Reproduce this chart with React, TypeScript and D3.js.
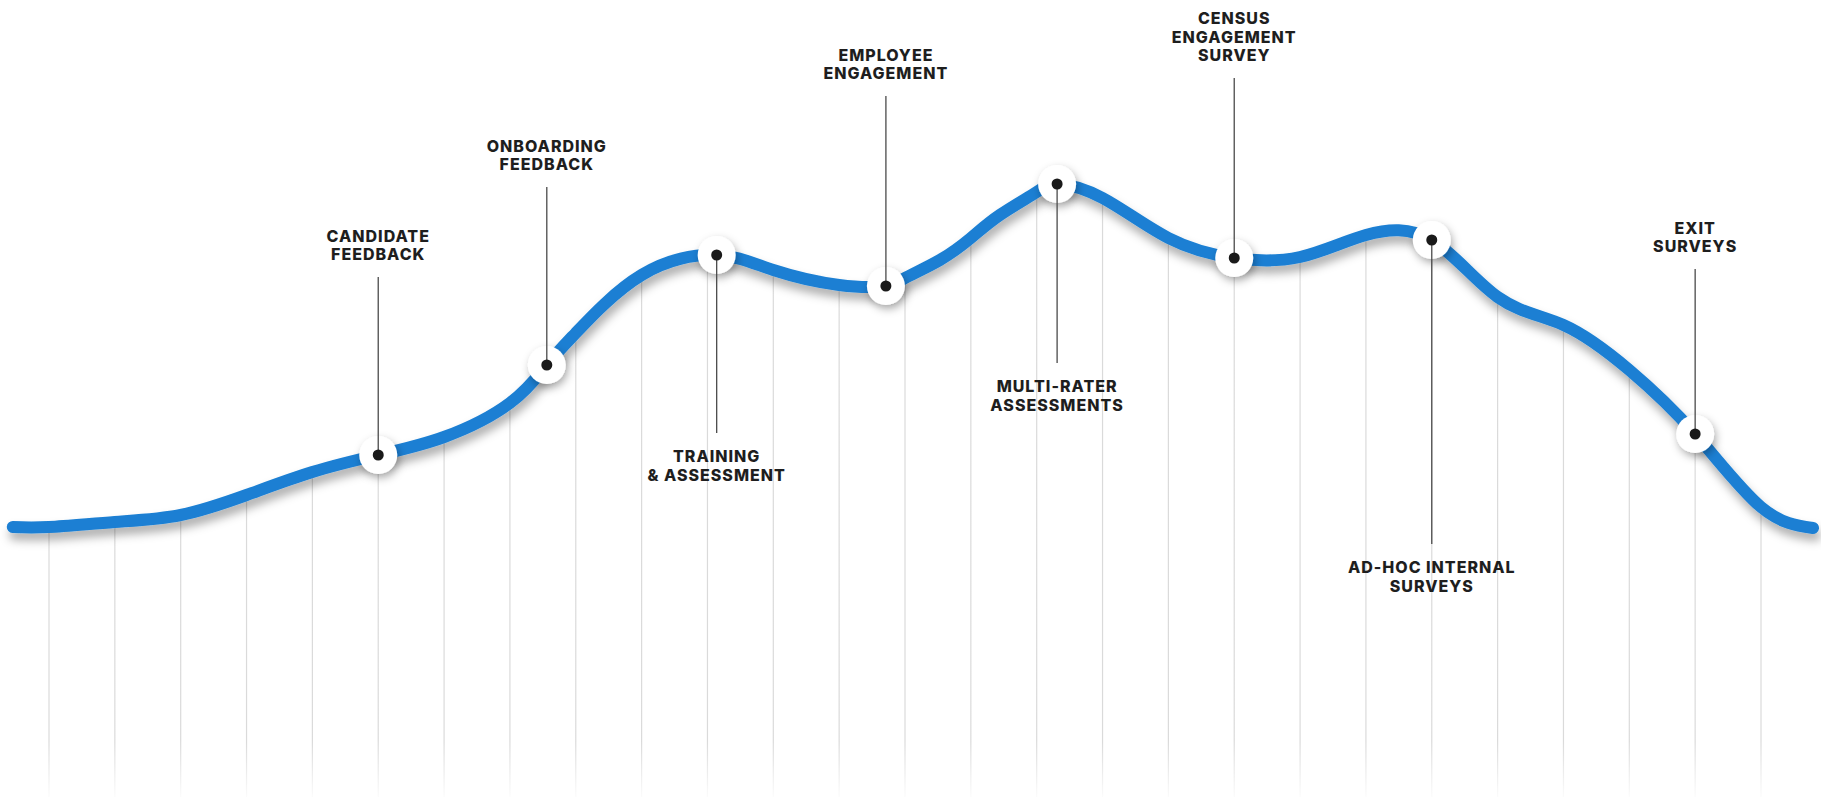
import React, { useEffect } from "react";
import * as d3 from "d3";

// ---- data (x in gridline-step units, y in value units) ----
const curveX = [-0.55, 0, 1, 2, 3, 4, 5, 6, 7, 7.56, 8, 9, 10.14, 11, 12, 12.71, 13, 13.53, 14, 14.44, 15, 15.31, 16, 17, 18, 19, 20, 21, 22, 23, 24, 25, 26, 26.79];
const curveY = [8.25, 8.25, 9.5, 11.25, 16.25, 22, 26.25, 30.75, 39.25, 48.75, 56.75, 71.25, 76.25, 72.5, 68.75, 68.5, 70.5, 75, 80.5, 86.25, 92, 94, 90.5, 80.5, 75.5, 75.75, 81.25, 80, 65.75, 58.75, 47.5, 31.5, 13.25, 8];
const gridSteps = d3.range(0, 27);
const markerX = [5, 7.56, 10.14, 12.71, 15.31, 18, 21, 25];
const markerLabels = [
  ["CANDIDATE", "FEEDBACK"],
  ["ONBOARDING", "FEEDBACK"],
  ["TRAINING", "& ASSESSMENT"],
  ["EMPLOYEE", "ENGAGEMENT"],
  ["MULTI-RATER", "ASSESSMENTS"],
  ["CENSUS", "ENGAGEMENT", "SURVEY"],
  ["AD-HOC INTERNAL", "SURVEYS"],
  ["EXIT", "SURVEYS"],
];
const markerSide = ["above", "above", "below", "above", "below", "above", "below", "above"];

// ---- layout ----
const W = 1821;
const H = 797;
const leaderLength = [178, 178, 178, 190, 179, 180, 304, 165];
const lineGap = 18.5;
const FONT = "Inter, Roboto, 'Liberation Sans', sans-serif";

export default function App() {
  useEffect(() => {
    document.body.style.margin = "0";
  }, []);

  const x = d3.scaleLinear().domain([0, 26]).range([49, 1761]);
  const y = d3.scaleLinear().domain([0, 100]).range([560, 160]);

  const pts: [number, number][] = curveX.map((cx, i) => [cx, curveY[i]]);
  const line = d3
    .line<[number, number]>()
    .x((d) => x(d[0]))
    .y((d) => y(d[1]))
    .curve(d3.curveNatural);
  const area = d3
    .area<[number, number]>()
    .x((d) => x(d[0]))
    .y0(H + 10)
    .y1((d) => y(d[1]))
    .curve(d3.curveNatural);

  const markers = markerX.map((mx, i) => {
    const idx = curveX.indexOf(mx);
    return {
      cx: x(mx),
      cy: y(curveY[idx]),
      lines: markerLabels[i],
      side: markerSide[i],
      len: leaderLength[i],
    };
  });

  return (
    <svg
      width={W}
      height={H}
      viewBox={`0 0 ${W} ${H}`}
      style={{ position: "absolute", left: 0, top: 0, background: "#fff", display: "block" }}
    >
      <defs>
        <filter id="lineShadow" x="-5%" y="-30%" width="110%" height="160%">
          <feDropShadow dx="2" dy="7" stdDeviation="5" floodColor="#000" floodOpacity="0.32" />
        </filter>
        <filter id="dotShadow" x="-50%" y="-50%" width="200%" height="200%">
          <feDropShadow dx="2" dy="4" stdDeviation="4" floodColor="#000" floodOpacity="0.32" />
        </filter>
        <linearGradient id="gridFade" gradientUnits="userSpaceOnUse" x1="0" y1="0" x2="0" y2={H}>
          <stop offset="0" stopColor="#dadada" stopOpacity="1" />
          <stop offset="0.93" stopColor="#dadada" stopOpacity="1" />
          <stop offset="1" stopColor="#dadada" stopOpacity="0.1" />
        </linearGradient>
        <clipPath id="underCurve">
          <path d={area(pts) || ""} />
        </clipPath>
      </defs>

      <g clipPath="url(#underCurve)">
        {gridSteps.map((g) => (
          <line
            key={g}
            x1={x(g)}
            x2={x(g)}
            y1={0}
            y2={H}
            stroke="url(#gridFade)"
            strokeWidth={1.2}
          />
        ))}
      </g>

      <path
        d={line(pts) || ""}
        fill="none"
        stroke="#1b7fd3"
        strokeWidth={12}
        strokeLinecap="round"
        strokeLinejoin="round"
        filter="url(#lineShadow)"
      />

      {markers.map((m, i) => (
        <circle key={"c" + i} cx={m.cx} cy={m.cy} r={19} fill="#fff" filter="url(#dotShadow)" />
      ))}

      {markers.map((m, i) => {
        const end = m.side === "above" ? m.cy - m.len : m.cy + m.len;
        return (
          <line key={"l" + i} x1={m.cx} x2={m.cx} y1={m.cy} y2={end} stroke="#4a4a4a" strokeWidth={1.3} />
        );
      })}

      {markers.map((m, i) => (
        <circle key={"d" + i} cx={m.cx} cy={m.cy} r={5.5} fill="#1a1a1a" />
      ))}

      {markers.map((m, i) => {
        const n = m.lines.length;
        const baselines =
          m.side === "above"
            ? m.lines.map((_, k) => m.cy - m.len - 17 - (n - 1 - k) * lineGap)
            : m.lines.map((_, k) => m.cy + m.len + 29 + k * lineGap);
        return (
          <g key={"t" + i}>
            {m.lines.map((t, k) => (
              <text
                key={k}
                x={m.cx}
                y={baselines[k]}
                textAnchor="middle"
                fontFamily={FONT}
                fontWeight={800}
                fontSize={16}
                letterSpacing={1.0}
                fill="#1e1e1e"
              >
                {t}
              </text>
            ))}
          </g>
        );
      })}
    </svg>
  );
}
